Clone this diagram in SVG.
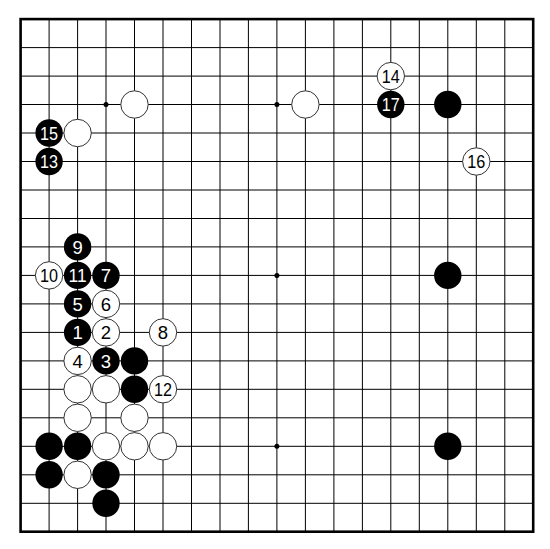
<svg xmlns="http://www.w3.org/2000/svg" width="550" height="549" viewBox="0 0 550 549">
<defs>
<style>
.grid line{stroke:#000;stroke-width:1}
.b{fill:#000}
.w{fill:#fff;stroke:#333;stroke-width:1}
.t{font-family:"Liberation Sans",Arial,sans-serif;font-size:18.5px;text-anchor:middle}
.tb{fill:#fff}
.tw{fill:#000}
</style>
</defs>
<rect width="550" height="549" fill="#fff"/>
<g id="board">
<g class="grid">
<line x1="49.1" y1="19.1" x2="49.1" y2="531.7"/>
<line x1="77.6" y1="19.1" x2="77.6" y2="531.7"/>
<line x1="106" y1="19.1" x2="106" y2="531.7"/>
<line x1="134.5" y1="19.1" x2="134.5" y2="531.7"/>
<line x1="163" y1="19.1" x2="163" y2="531.7"/>
<line x1="191.5" y1="19.1" x2="191.5" y2="531.7"/>
<line x1="220" y1="19.1" x2="220" y2="531.7"/>
<line x1="248.4" y1="19.1" x2="248.4" y2="531.7"/>
<line x1="276.9" y1="19.1" x2="276.9" y2="531.7"/>
<line x1="305.4" y1="19.1" x2="305.4" y2="531.7"/>
<line x1="333.9" y1="19.1" x2="333.9" y2="531.7"/>
<line x1="362.4" y1="19.1" x2="362.4" y2="531.7"/>
<line x1="390.8" y1="19.1" x2="390.8" y2="531.7"/>
<line x1="419.3" y1="19.1" x2="419.3" y2="531.7"/>
<line x1="447.8" y1="19.1" x2="447.8" y2="531.7"/>
<line x1="476.3" y1="19.1" x2="476.3" y2="531.7"/>
<line x1="504.8" y1="19.1" x2="504.8" y2="531.7"/>
<line x1="20.6" y1="47.6" x2="533.2" y2="47.6"/>
<line x1="20.6" y1="76.1" x2="533.2" y2="76.1"/>
<line x1="20.6" y1="104.5" x2="533.2" y2="104.5"/>
<line x1="20.6" y1="133" x2="533.2" y2="133"/>
<line x1="20.6" y1="161.5" x2="533.2" y2="161.5"/>
<line x1="20.6" y1="190" x2="533.2" y2="190"/>
<line x1="20.6" y1="218.5" x2="533.2" y2="218.5"/>
<line x1="20.6" y1="246.9" x2="533.2" y2="246.9"/>
<line x1="20.6" y1="275.4" x2="533.2" y2="275.4"/>
<line x1="20.6" y1="303.9" x2="533.2" y2="303.9"/>
<line x1="20.6" y1="332.4" x2="533.2" y2="332.4"/>
<line x1="20.6" y1="360.9" x2="533.2" y2="360.9"/>
<line x1="20.6" y1="389.3" x2="533.2" y2="389.3"/>
<line x1="20.6" y1="417.8" x2="533.2" y2="417.8"/>
<line x1="20.6" y1="446.3" x2="533.2" y2="446.3"/>
<line x1="20.6" y1="474.8" x2="533.2" y2="474.8"/>
<line x1="20.6" y1="503.3" x2="533.2" y2="503.3"/>
</g>
<rect x="20.6" y="19.1" width="512.6" height="512.6" fill="none" stroke="#000" stroke-width="2.6"/>
<g class="b">
<circle cx="106" cy="104.5" r="2.5"/>
<circle cx="276.9" cy="104.5" r="2.5"/>
<circle cx="447.8" cy="104.5" r="2.5"/>
<circle cx="106" cy="275.4" r="2.5"/>
<circle cx="276.9" cy="275.4" r="2.5"/>
<circle cx="447.8" cy="275.4" r="2.5"/>
<circle cx="106" cy="446.3" r="2.5"/>
<circle cx="276.9" cy="446.3" r="2.5"/>
<circle cx="447.8" cy="446.3" r="2.5"/>
</g>
</g>
<g id="stones">
<circle class="w" cx="134.5" cy="104.5" r="13.7"/>
<circle class="w" cx="305.4" cy="104.5" r="13.7"/>
<circle class="b" cx="447.8" cy="104.5" r="13.7"/>
<circle class="w" cx="77.6" cy="133" r="13.7"/>
<circle class="b" cx="447.8" cy="275.4" r="13.7"/>
<circle class="b" cx="134.5" cy="360.9" r="13.7"/>
<circle class="w" cx="77.6" cy="389.3" r="13.7"/>
<circle class="w" cx="106" cy="389.3" r="13.7"/>
<circle class="b" cx="134.5" cy="389.3" r="13.7"/>
<circle class="w" cx="77.6" cy="417.8" r="13.7"/>
<circle class="w" cx="134.5" cy="417.8" r="13.7"/>
<circle class="b" cx="49.1" cy="446.3" r="13.7"/>
<circle class="b" cx="77.6" cy="446.3" r="13.7"/>
<circle class="w" cx="106" cy="446.3" r="13.7"/>
<circle class="w" cx="134.5" cy="446.3" r="13.7"/>
<circle class="w" cx="163" cy="446.3" r="13.7"/>
<circle class="b" cx="447.8" cy="446.3" r="13.7"/>
<circle class="b" cx="49.1" cy="474.8" r="13.7"/>
<circle class="w" cx="77.6" cy="474.8" r="13.7"/>
<circle class="b" cx="106" cy="474.8" r="13.7"/>
<circle class="b" cx="106" cy="503.3" r="13.7"/>
</g>
<g id="m1"><circle class="b" cx="77.6" cy="332.4" r="13.7"/><text class="t tb" x="77.6" y="339">1</text></g>
<g id="m2"><circle class="w" cx="106" cy="332.4" r="13.7"/><text class="t tw" x="106" y="339">2</text></g>
<g id="m3"><circle class="b" cx="106" cy="360.9" r="13.7"/><text class="t tb" x="106" y="367.5">3</text></g>
<g id="m4"><circle class="w" cx="77.6" cy="360.9" r="13.7"/><text class="t tw" x="77.6" y="367.5">4</text></g>
<g id="m5"><circle class="b" cx="77.6" cy="303.9" r="13.7"/><text class="t tb" x="77.6" y="310.5">5</text></g>
<g id="m6"><circle class="w" cx="106" cy="303.9" r="13.7"/><text class="t tw" x="106" y="310.5">6</text></g>
<g id="m7"><circle class="b" cx="106" cy="275.4" r="13.7"/><text class="t tb" x="106" y="282">7</text></g>
<g id="m8"><circle class="w" cx="163" cy="332.4" r="13.7"/><text class="t tw" x="163" y="339">8</text></g>
<g id="m9"><circle class="b" cx="77.6" cy="246.9" r="13.7"/><text class="t tb" x="77.6" y="253.5">9</text></g>
<g id="m10"><circle class="w" cx="49.1" cy="275.4" r="13.7"/><text class="t tw" x="49.1" y="282" textLength="18" lengthAdjust="spacingAndGlyphs">10</text></g>
<g id="m11"><circle class="b" cx="77.6" cy="275.4" r="13.7"/><text class="t tb" x="77.6" y="282" textLength="18" lengthAdjust="spacingAndGlyphs">11</text></g>
<g id="m12"><circle class="w" cx="163" cy="389.3" r="13.7"/><text class="t tw" x="163" y="395.9" textLength="18" lengthAdjust="spacingAndGlyphs">12</text></g>
<g id="m13"><circle class="b" cx="49.1" cy="161.5" r="13.7"/><text class="t tb" x="49.1" y="168.1" textLength="18" lengthAdjust="spacingAndGlyphs">13</text></g>
<g id="m14"><circle class="w" cx="390.8" cy="76.1" r="13.7"/><text class="t tw" x="390.8" y="82.7" textLength="18" lengthAdjust="spacingAndGlyphs">14</text></g>
<g id="m15"><circle class="b" cx="49.1" cy="133" r="13.7"/><text class="t tb" x="49.1" y="139.6" textLength="18" lengthAdjust="spacingAndGlyphs">15</text></g>
<g id="m16"><circle class="w" cx="476.3" cy="161.5" r="13.7"/><text class="t tw" x="476.3" y="168.1" textLength="18" lengthAdjust="spacingAndGlyphs">16</text></g>
<g id="m17"><circle class="b" cx="390.8" cy="104.5" r="13.7"/><text class="t tb" x="390.8" y="111.1" textLength="18" lengthAdjust="spacingAndGlyphs">17</text></g>
<g id="connectors"></g>
</svg>
